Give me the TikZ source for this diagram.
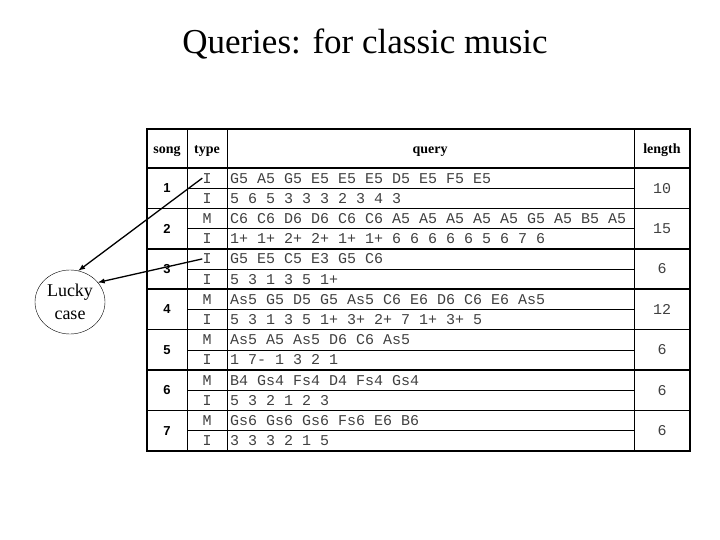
\documentclass[tikz,border=0pt]{standalone}
\usepackage{fontspec}
\setmainfont{Liberation Serif}
\newfontfamily\monofont{Liberation Mono}
\newfontfamily\numfont{Liberation Sans}
\usetikzlibrary{shapes.geometric}

\begin{document}
\begin{tikzpicture}[x=1pt,y=1pt,yscale=-1,
  thin rule/.style={line width=0.6pt},
  thick rule/.style={line width=1.6pt},
  head/.style={font=\bfseries\fontsize{14}{16}\selectfont,text height=10pt,text depth=3pt},
  num/.style={font=\numfont\bfseries\fontsize{13}{15}\selectfont},
  cell/.style={font=\monofont\fontsize{15}{17}\selectfont,text=black!75,inner sep=0pt},
  pointer/.style={line width=1.3pt,-latex}]
\useasboundingbox (0,0) rectangle (720,540);

% Title
\node (title) at (365,44) {\fontsize{35}{40}\selectfont Queries: for classic music};

% Table frame
\draw [thick rule] (147,129) rectangle (690,451);
\draw [thick rule] (147,168) -- (690,168);
\foreach \x in {187,227,634} \draw [thin rule] (\x,129) -- (\x,451);
% Row rules
\foreach \k in {1,3,...,13} \draw [thin rule] (187,168+\k*20.2) -- (634,168+\k*20.2);
\foreach \k in {2,4,...,12} \draw [thick rule] (147,168+\k*20.2) -- (690,168+\k*20.2);

% Header
\node [head] (hsong) at (167,150) {song};
\node [head] (htype) at (207,150) {type};
\node [head] (hquery) at (430,150) {query};
\node [head] (hlength) at (662,150) {length};

% Songs and lengths
\foreach \s/\l [count=\i from 0] in {1/10,2/15,3/6,4/12,5/6,6/6,7/6} {
  \node [num] (song\s) at (167,188.2+\i*40.4) {\s};
  \node [cell] (len\s) at (662,188.2+\i*40.4) {\l};
}

% Types and queries
\foreach \t/\q [count=\i from 0] in {
  I/{G5 A5 G5 E5 E5 E5 D5 E5 F5 E5},
  I/{5 6 5 3 3 3 2 3 4 3},
  M/{C6 C6 D6 D6 C6 C6 A5 A5 A5 A5 A5 G5 A5 B5 A5},
  I/{1+ 1+ 2+ 2+ 1+ 1+ 6 6 6 6 6 5 6 7 6},
  I/{G5 E5 C5 E3 G5 C6},
  I/{5 3 1 3 5 1+},
  M/{As5 G5 D5 G5 As5 C6 E6 D6 C6 E6 As5},
  I/{5 3 1 3 5 1+ 3+ 2+ 7 1+ 3+ 5},
  M/{As5 A5 As5 D6 C6 As5},
  I/{1 7- 1 3 2 1},
  M/{B4 Gs4 Fs4 D4 Fs4 Gs4},
  I/{5 3 2 1 2 3},
  M/{Gs6 Gs6 Gs6 Fs6 E6 B6},
  I/{3 3 3 2 1 5}} {
  \node [cell] (type\i) at (207,178.1+\i*20.2) {\t};
  \node [cell,anchor=west] (query\i) at (230,178.1+\i*20.2) {\q};
}

% Lucky case
\node [ellipse,draw,minimum width=70,minimum height=64,inner sep=0pt,align=center,
  font=\fontsize{18}{23}\selectfont] (lucky) at (70,302) {Lucky\\case};
\draw [pointer] (type0.west) -- (lucky.75);
\draw [pointer] (type4.west) -- (lucky.35);

\end{tikzpicture}
\end{document}
